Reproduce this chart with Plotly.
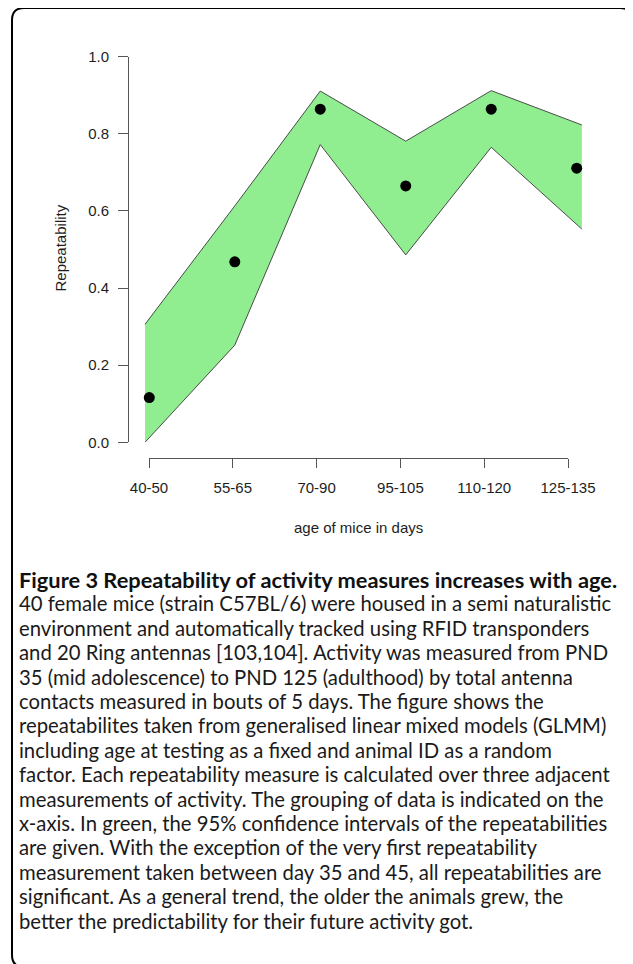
import plotly.graph_objects as go

# ---- data ----
age_groups = ["40-50", "55-65", "70-90", "95-105", "110-120", "125-135"]
group_pos = [1, 2, 3, 4, 5, 6]
repeatability = [0.116, 0.468, 0.864, 0.665, 0.864, 0.711]
ci_x = [0.95, 2, 3, 4, 5, 6.06]
ci_upper = [0.306, 0.613, 0.911, 0.781, 0.912, 0.823]
ci_lower = [0.0, 0.252, 0.772, 0.486, 0.765, 0.553]
y_ticks = [0.0, 0.2, 0.4, 0.6, 0.8, 1.0]

caption_title = "Figure 3 Repeatability of activity measures increases with age."
caption_lines = [
    "40 female mice (strain C57BL/6) were housed in a semi naturalistic",
    "environment and automatically tracked using RFID transponders",
    "and 20 Ring antennas [103,104]. Activity was measured from PND",
    "35 (mid adolescence) to PND 125 (adulthood) by total antenna",
    "contacts measured in bouts of 5 days. The figure shows the",
    "repeatabilites taken from generalised linear mixed models (GLMM)",
    "including age at testing as a fixed and animal ID as a random",
    "factor. Each repeatability measure is calculated over three adjacent",
    "measurements of activity. The grouping of data is indicated on the",
    "x-axis. In green, the 95% confidence intervals of the repeatabilities",
    "are given. With the exception of the very first repeatability",
    "measurement taken between day 35 and 45, all repeatabilities are",
    "significant. As a general trend, the older the animals grew, the",
    "better the predictability for their future activity got.",
]

OFF = 8  # page body margin
W, H = 633 - OFF, 964 - OFF
def fx(px): return (px - OFF) / W
def fy(py): return 1 - (py - OFF) / H

fig = go.Figure()

# CI band fill
fig.add_trace(go.Scatter(
    x=ci_x + ci_x[::-1], y=ci_upper + ci_lower[::-1],
    fill="toself", fillcolor="#90EE90", mode="none",
    hoverinfo="skip", showlegend=False, xaxis="x", yaxis="y"))
# CI edges
for arr in (ci_upper, ci_lower):
    fig.add_trace(go.Scatter(
        x=ci_x, y=arr, mode="lines", line=dict(color="#3a3a3a", width=0.9),
        hoverinfo="skip", showlegend=False, xaxis="x", yaxis="y"))
# points
fig.add_trace(go.Scatter(
    x=group_pos, y=repeatability, mode="markers",
    marker=dict(color="black", size=11), cliponaxis=False,
    showlegend=False, xaxis="x", yaxis="y"))
# invisible trace for label axis
fig.add_trace(go.Scatter(
    x=group_pos, y=repeatability, mode="markers", marker=dict(opacity=0),
    hoverinfo="skip", showlegend=False, xaxis="x2", yaxis="y"))

font_chart = dict(family="Liberation Sans, Arial, sans-serif", size=15, color="#1e1e1e")

fig.update_layout(
    width=W, height=H, margin=dict(l=0, r=0, t=0, b=0, pad=0, autoexpand=False),
    paper_bgcolor="white", plot_bgcolor="rgba(0,0,0,0)",
    xaxis=dict(domain=[fx(115.1), fx(610.9)], range=[0.6, 6.4], visible=False,
               anchor="y", automargin=False),
    xaxis2=dict(domain=[fx(149), fx(568)], range=[1, 6], anchor="free",
                position=fy(457.7), tickvals=group_pos, ticktext=age_groups,
                showline=True, linecolor="#555", linewidth=1, ticks="outside",
                ticklen=9, tickcolor="#555", showgrid=False, zeroline=False,
                tickfont=font_chart, ticklabelstandoff=7, automargin=False),
    yaxis=dict(domain=[fy(442.3), fy(56.7)], range=[0, 1], anchor="free",
               position=fx(128), tickvals=y_ticks, tickformat=".1f",
               showline=True, linecolor="#555", linewidth=1, ticks="outside",
               ticklen=10, tickcolor="#555", showgrid=False, zeroline=False,
               tickfont=font_chart, ticklabelstandoff=6, automargin=False),
)

ann = []
ann.append(dict(x=fx(60), y=fy(248.5), xref="paper", yref="paper",
                text="Repeatability", textangle=-90, showarrow=False,
                font=font_chart, xanchor="center", yanchor="middle"))
ann.append(dict(x=fx(358.5), y=fy(527), xref="paper", yref="paper",
                text="age of mice in days", showarrow=False,
                font=font_chart, xanchor="center", yanchor="middle"))

cap_font = dict(family="Lato, Open Sans, sans-serif", size=20.3, color="#1a1a1a")
title_font = dict(family="Lato, Open Sans, sans-serif", size=21.8, color="#111")
y0, dy = 579, 24.4
ann.append(dict(x=fx(17), y=fy(y0), xref="paper", yref="paper",
                text="<b>" + caption_title + "</b>", showarrow=False,
                font=title_font, xanchor="left", yanchor="middle"))
for i, line in enumerate(caption_lines):
    ann.append(dict(x=fx(17), y=fy(y0 + dy * (i + 1)), xref="paper", yref="paper",
                    text=line, showarrow=False, font=cap_font,
                    xanchor="left", yanchor="middle"))
fig.update_layout(annotations=ann)

# rounded border
L, T, R, B, r = 12, 8, 632, 967, 12
path = (f"M {fx(L)},{fy(T + r)} Q {fx(L)},{fy(T)} {fx(L + r)},{fy(T)} "
        f"L {fx(R - r)},{fy(T)} Q {fx(R)},{fy(T)} {fx(R)},{fy(T + r)} "
        f"L {fx(R)},{fy(B - r)} Q {fx(R)},{fy(B)} {fx(R - r)},{fy(B)} "
        f"L {fx(L + r)},{fy(B)} Q {fx(L)},{fy(B)} {fx(L)},{fy(B - r)} Z")
fig.add_shape(type="path", path=path, xref="paper", yref="paper",
              line=dict(color="black", width=2))

fig.write_html("out.html")
